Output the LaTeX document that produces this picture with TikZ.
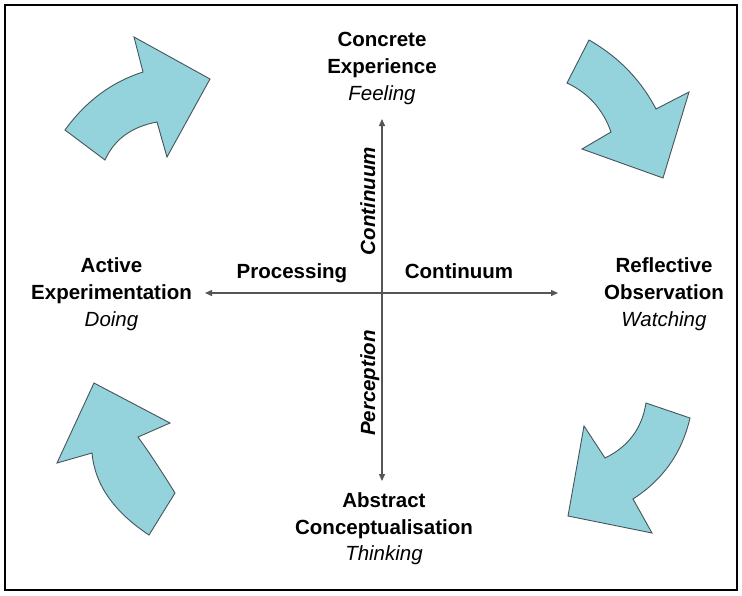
\documentclass[tikz,border=0pt]{standalone}
\usepackage{fontspec}
\setmainfont{Liberation Sans}
\usetikzlibrary{arrows.meta}
\definecolor{arrfill}{RGB}{148,210,220}
\definecolor{arredge}{RGB}{70,85,90}
\definecolor{axisgray}{RGB}{85,85,85}
\begin{document}
\begin{tikzpicture}[x=1pt,y=-1pt,
  lbl/.style={font=\fontsize{20.5}{25}\selectfont\bfseries, anchor=base, inner sep=0pt},
  sub/.style={font=\fontsize{20.5}{25}\selectfont\itshape, anchor=base, inner sep=0pt},
  vlbl/.style={font=\fontsize{20.5}{25}\selectfont\bfseries\itshape, rotate=90, anchor=base, inner sep=0pt},
  cyc/.style={fill=arrfill, draw=arredge, line width=0.9pt, line join=miter},
  axisline/.style={draw=axisgray, line width=1.3pt, {Triangle[length=7pt,width=6pt]}-{Triangle[length=7pt,width=6pt]}}]
\useasboundingbox (0,0) rectangle (742,595);
\fill[white] (0,0) rectangle (742,595);
\draw[black, line width=2pt] (5,5) rectangle (737,590);

% axis end points
\coordinate (top) at (382,119);
\coordinate (bottom) at (382,481);
\coordinate (left) at (205,293);
\coordinate (right) at (558,293);
\draw[axisline] (bottom) -- (top);
\draw[axisline] (left) -- (right);

% pole labels
\node[lbl] (ce1) at (382,46.7) {Concrete};
\node[lbl] (ce2) at (382,73.4) {Experience};
\node[sub] (ce3) at (382,100) {Feeling};

\node[lbl] (ae1) at (111.5,272) {Active};
\node[lbl] (ae2) at (111.5,299) {Experimentation};
\node[sub] (ae3) at (111.5,326) {Doing};

\node[lbl] (ro1) at (664,272) {Reflective};
\node[lbl] (ro2) at (664,299) {Observation};
\node[sub] (ro3) at (664,326) {Watching};

\node[lbl] (ac1) at (384,507) {Abstract};
\node[lbl] (ac2) at (384,534) {Conceptualisation};
\node[sub] (ac3) at (384,560) {Thinking};

% axis labels
\node[lbl] (proc) at (292,278) {Processing};
\node[lbl] (hcont) at (459,278) {Continuum};
\node[vlbl] (vcont) at (375,201) {Continuum};
\node[vlbl] (perc) at (375,383) {Perception};

% cycle arrows
% top-left
\draw[cyc] (65,130) .. controls (85.7,101.3) and (111.7,82) .. (143,72) -- (134,37) -- (210,79)
  -- (167,157) -- (157,122) .. controls (131.7,126.7) and (114.3,139.3) .. (105,160) -- cycle;
% top-right
\draw[cyc] (589,40) .. controls (618.3,56.7) and (640.7,79.7) .. (656,109) -- (689,92) -- (663,178)
  -- (582,149) -- (611,132) .. controls (603,109.3) and (588.3,93) .. (567,83) -- cycle;
% bottom-right
\draw[cyc] (646,403) -- (690,418) .. controls (682,452.7) and (663,479.7) .. (633,499) -- (652,533)
  -- (568,516) -- (584,426) -- (605,458) .. controls (628.3,446.7) and (642,428.3) .. (646,403) -- cycle;
% bottom-left
\draw[cyc] (94,383) -- (170,423) -- (138,437) .. controls (148.7,451.7) and (161,470.3) .. (175,493)
  -- (149,535) .. controls (113.7,511.7) and (94.7,484.3) .. (92,453) -- (57,463) -- cycle;
\end{tikzpicture}
\end{document}
